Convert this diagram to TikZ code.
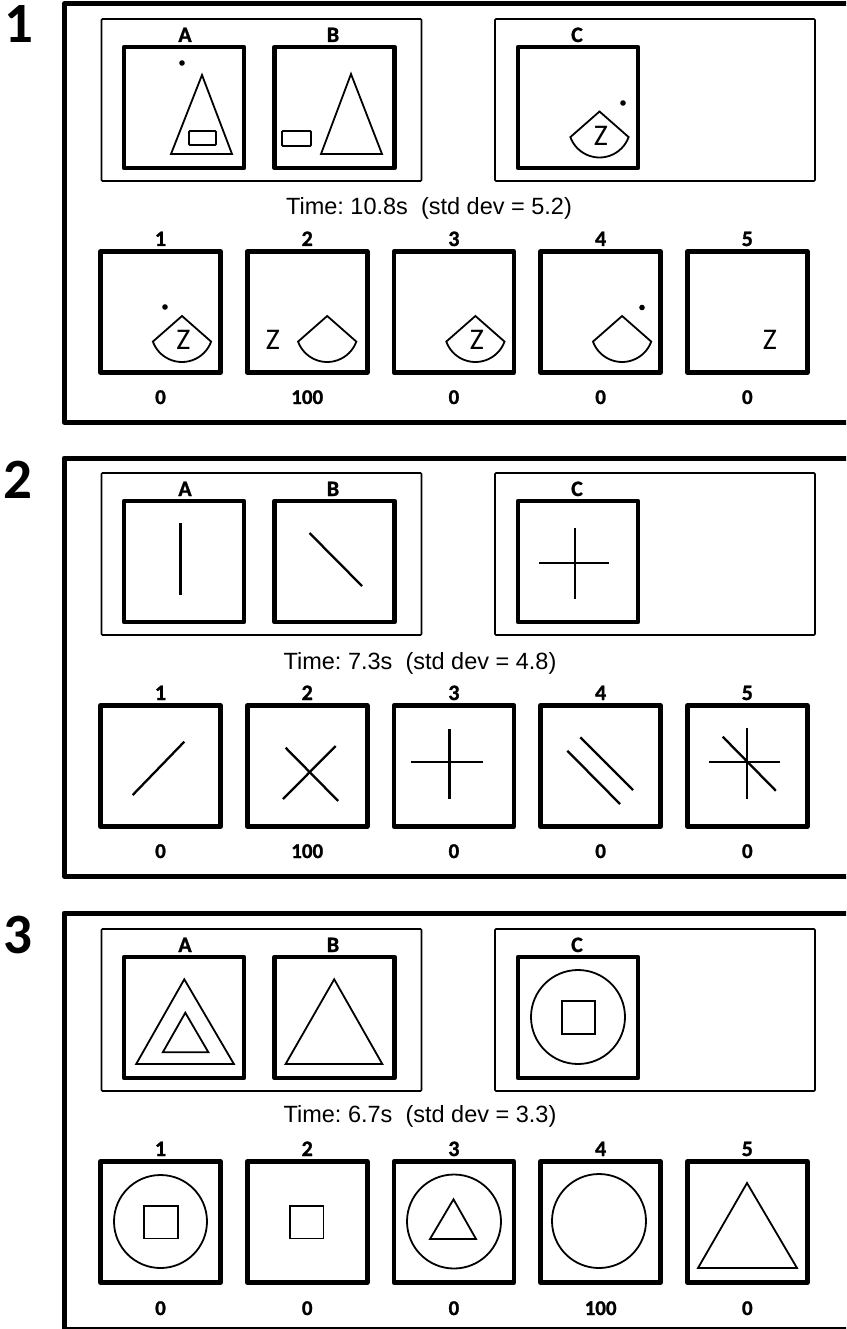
\documentclass[tikz,border=0pt]{standalone}
\usepackage{fontspec}
\setmainfont{Liberation Sans}
\newfontfamily\carl{Carlito}
\newfontfamily\carlb[BoldFeatures={FakeBold=1.2}]{Carlito}
\usetikzlibrary{calc}
\frenchspacing
\begin{document}
\begin{tikzpicture}[x=1pt,y=-1pt,
  frame/.style={line width=5pt, line join=round},
  group/.style={draw, line width=1.6pt, rounded corners=1pt, minimum width=320pt, minimum height=162pt, inner sep=0pt},
  card/.style={draw, line width=4.6pt, line join=round, minimum width=120pt, minimum height=121pt, inner sep=0pt},
  shp/.style={line width=1.8pt, line join=miter},
  bar/.style={line width=2.3pt},
  lbl/.style={font=\carlb\bfseries\fontsize{22}{22}\selectfont, inner sep=0pt, anchor=base},
  val/.style={font=\carlb\bfseries\fontsize{21}{21}\selectfont, inner sep=0pt, anchor=base},
  pnum/.style={font=\carl\bfseries\fontsize{57}{57}\selectfont, inner sep=0pt, anchor=base},
  zed/.style={font=\carl\fontsize{30}{30}\selectfont, inner sep=0pt},
  tim/.style={font=\fontsize{23.5}{23.5}\selectfont, inner sep=0pt, anchor=base},
  fan/.pic={\draw[shp] (0,-15) -- (160:31) arc[start angle=160, end angle=20, radius=31] -- cycle;}
]
\clip (0,0) rectangle (846,1329);
\fill[white] (0,0) rectangle (846,1329);

% ================= Panel 1 =================
\node[pnum] (n1) at (19,43) {1};
\draw[frame] (900,4) -- (64,4) -- (64,422) -- (900,422);
\node[group] (g1ab) at (261.5,100) {};
\node[group] (g1c) at (655,100) {};
\node[card] (p1A) at (184,107.5) {};
\node[card] (p1B) at (334.5,107.5) {};
\node[card] (p1C) at (578,107.5) {};
\node[lbl] (l1A) at (185,42) {A};
\node[lbl] (l1B) at (333,42) {B};
\node[lbl] (l1C) at (577,42) {C};
% A
\fill (182,63) circle (2.8);
\draw[shp] (202,75) -- (171,154) -- (232,154) -- cycle;
\draw[shp, rounded corners=1pt] (189,131) rectangle (216,145);
% B
\draw[shp, rounded corners=1pt] (282,131) rectangle (311,146);
\draw[shp] (351,74) -- (321,154) -- (382,154) -- cycle;
% C
\fill (623,103) circle (2.8);
\pic at (599.5,126.5) {fan};
\node[zed] (z1c) at (601,135.5) {Z};
\node[tim] (t1) at (429,215) {Time: 10.8s\ \ (std dev = 5.2)};
% answers
\foreach \i/\x/\v in {1/160.5/0, 2/307.2/100, 3/453.9/0, 4/600.6/0, 5/747.3/0}{
  \node[card] (p1a\i) at (\x,312) {};
  \node[lbl] (p1n\i) at (\x,246) {\i};
  \node[val] (p1v\i) at (\x,404) {\v};
}
\fill (165,307) circle (2.8);
\pic at (182,331) {fan};
\node[zed] (z11) at (183.5,340) {Z};
\node[zed] (z12) at (273,340) {Z};
\pic at (327.2,331) {fan};
\pic at (475.4,331) {fan};
\node[zed] (z13) at (476.9,340) {Z};
\pic at (622.1,331) {fan};
\fill (642,307.5) circle (2.8);
\node[zed] (z15) at (770,340) {Z};

% ================= Panel 2 =================
\node[pnum] (n2) at (17.5,498) {2};
\draw[frame] (900,458) -- (64,458) -- (64,876) -- (900,876);
\node[group] (g2ab) at (261.5,554) {};
\node[group] (g2c) at (655,554) {};
\node[card] (p2A) at (184,561.5) {};
\node[card] (p2B) at (334.5,561.5) {};
\node[card] (p2C) at (578,561.5) {};
\node[lbl] (l2A) at (185,496) {A};
\node[lbl] (l2B) at (333,496) {B};
\node[lbl] (l2C) at (577,496) {C};
\draw[bar] (180.5,523) -- (180.5,595);
\draw[bar] (309.5,533) -- (362,586);
\draw[bar] (575.3,528) -- (575.3,599);
\draw[bar] (539,562.7) -- (609,562.7);
\node[tim] (t2) at (420,669) {Time: 7.3s\ \ (std dev = 4.8)};
\foreach \i/\x/\v in {1/160.5/0, 2/307.2/100, 3/453.9/0, 4/600.6/0, 5/747.3/0}{
  \node[card] (p2a\i) at (\x,766) {};
  \node[lbl] (p2n\i) at (\x,700) {\i};
  \node[val] (p2v\i) at (\x,858) {\v};
}
\draw[bar] (132.7,795) -- (184.3,741.7);
\draw[bar] (285.6,747.7) -- (338.2,801);
\draw[bar] (283,799) -- (335.7,746);
\draw[bar] (449.5,729) -- (449.5,799);
\draw[bar] (411,762.3) -- (482.6,762.3);
\draw[bar] (580.3,737.3) -- (633,790);
\draw[bar] (567.3,750.7) -- (620,804);
\draw[bar] (746.7,728.3) -- (746.7,799);
\draw[bar] (709,762.3) -- (780.3,762.3);
\draw[bar] (722.7,736.7) -- (775.8,790.7);

% ================= Panel 3 =================
\node[pnum] (n3) at (18,953) {3};
\draw[frame] (900,913) -- (64,913) -- (64,1329) -- (900,1329);
\node[group] (g3ab) at (261.5,1010) {};
\node[group] (g3c) at (655,1010) {};
\node[card] (p3A) at (184,1017.5) {};
\node[card] (p3B) at (334.5,1017.5) {};
\node[card] (p3C) at (578,1017.5) {};
\node[lbl] (l3A) at (185,952) {A};
\node[lbl] (l3B) at (333,952) {B};
\node[lbl] (l3C) at (577,952) {C};
\draw[shp] (184.3,979.3) -- (136.2,1064) -- (233.9,1064) -- cycle;
\draw[shp] (185.3,1012.7) -- (162.8,1052.3) -- (208.4,1052.3) -- cycle;
\draw[shp] (334.2,979.3) -- (285.6,1064) -- (382.3,1064) -- cycle;
\draw[shp] (578,1017) circle (47);
\draw[shp] (562,1001) rectangle (595,1034);
\node[tim] (t3) at (420,1122) {Time: 6.7s\ \ (std dev = 3.3)};
\foreach \i/\x/\v in {1/160.5/0, 2/307.2/0, 3/453.9/0, 4/600.6/100, 5/747.3/0}{
  \node[card] (p3a\i) at (\x,1222) {};
  \node[lbl] (p3n\i) at (\x,1156) {\i};
  \node[val] (p3v\i) at (\x,1315) {\v};
}
\draw[shp] (160.5,1221.5) circle (46.5);
\draw[shp] (144.2,1206) rectangle (177.8,1238.5);
\draw[shp] (290,1206) rectangle (323.5,1238.5);
\draw[shp] (454,1221.5) circle (47);
\draw[shp] (453.5,1199.3) -- (430,1239) -- (476,1239) -- cycle;
\draw[shp] (599,1221) circle (47);
\draw[shp] (747,1183) -- (698,1268) -- (797,1268) -- cycle;
\end{tikzpicture}
\end{document}
